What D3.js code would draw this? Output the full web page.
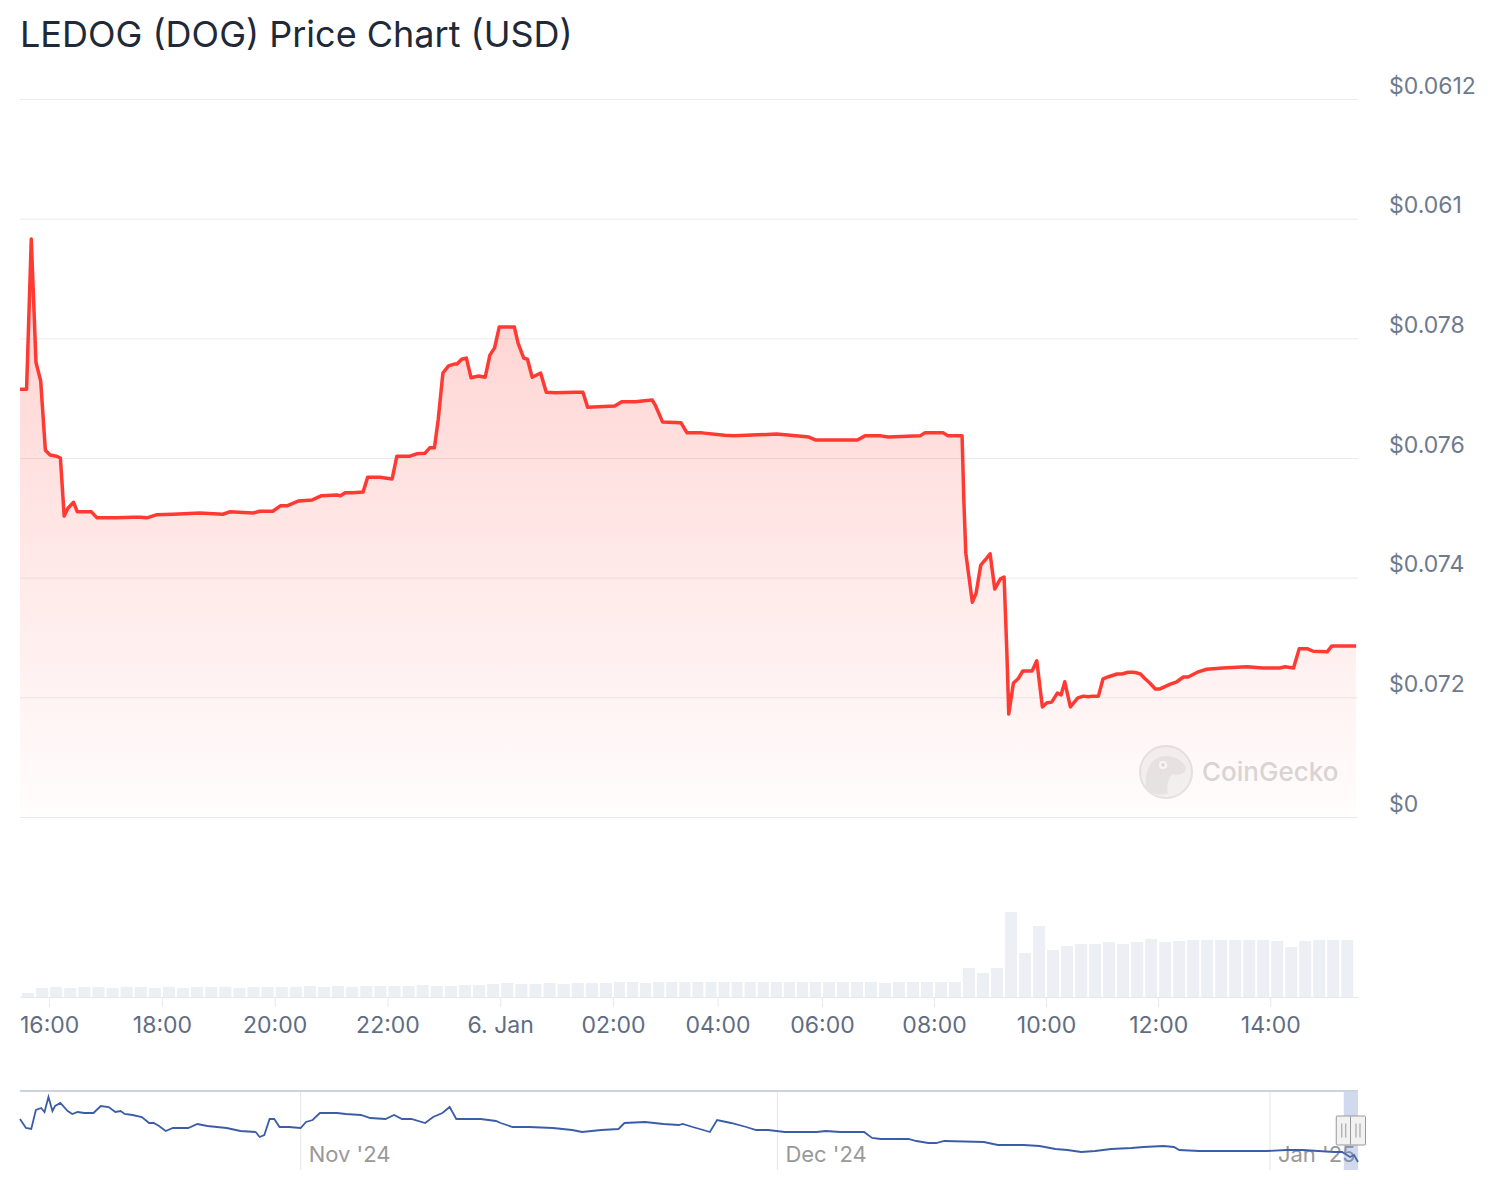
<!DOCTYPE html>
<html lang="en">
  <head>
    <meta charset="UTF-8" />
    <meta name="viewport" content="width=device-width, initial-scale=1.0" />
    <title>LEDOG (DOG) Price Chart (USD)</title>
    <style>
      * {
        margin: 0;
        padding: 0;
      }
      svg {
        display: block;
        font-family: Inter, 'Noto Sans', sans-serif;
      }
    </style>
  </head>
  <body>
    <script src="https://cdn.jsdelivr.net/npm/d3@7"></script>
    <script>
      // price from 5 Jan 15:29 to 6 Jan 15:32 (time HH:MM, USD)
      const priceData = [
        ['15:29', 0.07715], ['15:36', 0.07715], ['15:41', 0.07966], ['15:46', 0.0776],
        ['15:51', 0.07729], ['15:56', 0.07613], ['16:01', 0.07605], ['16:08', 0.07603],
        ['16:12', 0.076], ['16:16', 0.07503], ['16:20', 0.07516], ['16:26', 0.07526],
        ['16:30', 0.0751], ['16:45', 0.0751], ['16:51', 0.075], ['17:12', 0.075],
        ['17:29', 0.07501], ['17:37', 0.07501], ['17:44', 0.075], ['17:54', 0.07505],
        ['18:12', 0.07506], ['18:40', 0.07508], ['19:05', 0.07506], ['19:12', 0.0751],
        ['19:37', 0.07508], ['19:44', 0.07511], ['19:58', 0.07511], ['20:06', 0.0752],
        ['20:13', 0.0752], ['20:25', 0.07528], ['20:40', 0.0753], ['20:50', 0.07537],
        ['21:06', 0.07538], ['21:10', 0.07537], ['21:15', 0.07542], ['21:23', 0.07542],
        ['21:34', 0.07543], ['21:39', 0.07568], ['21:52', 0.07568], ['22:05', 0.07565],
        ['22:10', 0.07603], ['22:24', 0.07603], ['22:31', 0.07607], ['22:40', 0.07608],
        ['22:45', 0.07617], ['22:50', 0.07617], ['22:54', 0.07664], ['22:59', 0.07742],
        ['23:05', 0.07754], ['23:11', 0.07757], ['23:14', 0.07757], ['23:19', 0.07765],
        ['23:24', 0.07767], ['23:29', 0.07734], ['23:37', 0.07737], ['23:44', 0.07735],
        ['23:49', 0.07772], ['23:54', 0.07784], ['23:59', 0.07819], ['00:15', 0.07819],
        ['00:19', 0.07792], ['00:25', 0.07767], ['00:29', 0.07765], ['00:34', 0.07735],
        ['00:43', 0.07742], ['00:49', 0.0771], ['00:59', 0.07709], ['01:19', 0.0771],
        ['01:28', 0.0771], ['01:33', 0.07685], ['02:02', 0.07687], ['02:10', 0.07694],
        ['02:26', 0.07694], ['02:31', 0.07695], ['02:45', 0.07697], ['02:49', 0.07687],
        ['02:57', 0.0766], ['03:18', 0.07659], ['03:25', 0.07642], ['03:42', 0.07642],
        ['04:08', 0.07638], ['04:19', 0.07637], ['05:08', 0.0764], ['05:45', 0.07635],
        ['05:53', 0.0763], ['06:38', 0.0763], ['06:46', 0.07637], ['07:03', 0.07637],
        ['07:11', 0.07635], ['07:45', 0.07637], ['07:50', 0.07642], ['08:10', 0.07642],
        ['08:15', 0.07637], ['08:30', 0.07637], ['08:32', 0.07525], ['08:34', 0.07441],
        ['08:41', 0.07359], ['08:45', 0.07374], ['08:50', 0.07421], ['08:55', 0.0743],
        ['09:00', 0.0744], ['09:05', 0.07381], ['09:11', 0.07398], ['09:15', 0.07401],
        ['09:18', 0.07274], ['09:20', 0.07172], ['09:25', 0.07224], ['09:30', 0.07231],
        ['09:35', 0.07244], ['09:45', 0.07244], ['09:50', 0.07261], ['09:56', 0.07184],
        ['10:01', 0.07191], ['10:06', 0.07192], ['10:12', 0.07207], ['10:16', 0.07204],
        ['10:20', 0.07226], ['10:26', 0.07184], ['10:34', 0.07199], ['10:40', 0.07202],
        ['10:45', 0.07201], ['10:50', 0.07202], ['10:56', 0.07202], ['11:01', 0.07231],
        ['11:06', 0.07234], ['11:16', 0.07239], ['11:21', 0.07239], ['11:28', 0.07242],
        ['11:33', 0.07242], ['11:37', 0.07241], ['11:41', 0.07239], ['11:46', 0.07231],
        ['11:51', 0.07224], ['11:57', 0.07214], ['12:02', 0.07214], ['12:13', 0.07222],
        ['12:20', 0.07226], ['12:27', 0.07234], ['12:32', 0.07234], ['12:42', 0.07242],
        ['12:52', 0.07247], ['13:09', 0.07249], ['13:35', 0.07251], ['13:52', 0.07249],
        ['14:10', 0.07249], ['14:16', 0.07251], ['14:25', 0.07249], ['14:31', 0.07281],
        ['14:40', 0.07281], ['14:46', 0.07277], ['15:01', 0.07276], ['15:06', 0.07286],
        ['15:32', 0.07286]
      ]

      // y axis ticks and the labels shown beside them
      const yTickValues = [0.07, 0.072, 0.074, 0.076, 0.078, 0.08, 0.082]
      const yTickLabels = ['$0', '$0.072', '$0.074', '$0.076', '$0.078', '$0.061', '$0.0612']

      // volume, one bar per 15 minutes starting 5 Jan 15:30
      const volumeStart = '15:30'
      const volumes = [
        4, 9,
        10, 9, 10, 10, 9, 10, 10, 9,
        10, 9, 10, 10, 10, 9, 10, 10,
        10, 10, 11, 10, 11, 10, 11, 11,
        11, 11, 12, 11, 11, 12, 12, 13,
        14, 13, 13, 14, 13, 14, 14, 14,
        15, 15, 14, 15, 15, 15, 15, 15,
        15, 15, 15, 15, 15, 15, 15, 15,
        15, 15, 15, 15, 14, 15, 15, 15,
        15, 15, 29, 24, 29, 85, 44, 71,
        47, 51, 53, 53, 55, 53, 55, 58,
        55, 56, 57, 57, 57, 57, 57, 57,
        56, 50, 56, 57, 57, 57
      ]

      // navigator: longer price history
      const navData = [
        ['2024-10-14 08', 0.205], ['2024-10-14 17', 0.169], ['2024-10-15 01', 0.165],
        ['2024-10-15 08', 0.241], ['2024-10-15 16', 0.249], ['2024-10-15 21', 0.233],
        ['2024-10-16 03', 0.293], ['2024-10-16 09', 0.237], ['2024-10-16 13', 0.257],
        ['2024-10-16 21', 0.269], ['2024-10-17 08', 0.237], ['2024-10-17 15', 0.225],
        ['2024-10-17 23', 0.233], ['2024-10-18 09', 0.229], ['2024-10-18 23', 0.229],
        ['2024-10-19 10', 0.257], ['2024-10-19 22', 0.253], ['2024-10-20 08', 0.233],
        ['2024-10-20 16', 0.237], ['2024-10-20 22', 0.225], ['2024-10-21 10', 0.221],
        ['2024-10-22 00', 0.213], ['2024-10-22 11', 0.189], ['2024-10-22 18', 0.189],
        ['2024-10-23 02', 0.177], ['2024-10-23 12', 0.157], ['2024-10-23 23', 0.169],
        ['2024-10-24 22', 0.169], ['2024-10-25 12', 0.185], ['2024-10-26 03', 0.177],
        ['2024-10-27 08', 0.169], ['2024-10-28 05', 0.157], ['2024-10-29 04', 0.153],
        ['2024-10-29 10', 0.133], ['2024-10-29 17', 0.141], ['2024-10-30 01', 0.205],
        ['2024-10-30 08', 0.205], ['2024-10-30 16', 0.173], ['2024-10-31 06', 0.173],
        ['2024-11-01 00', 0.169], ['2024-11-01 08', 0.193], ['2024-11-01 18', 0.201],
        ['2024-11-02 05', 0.229], ['2024-11-02 20', 0.229], ['2024-11-03 07', 0.229],
        ['2024-11-03 20', 0.225], ['2024-11-04 19', 0.221], ['2024-11-05 09', 0.209],
        ['2024-11-06 08', 0.205], ['2024-11-06 21', 0.221], ['2024-11-07 09', 0.205],
        ['2024-11-07 23', 0.205], ['2024-11-08 20', 0.189], ['2024-11-09 08', 0.213],
        ['2024-11-09 22', 0.229], ['2024-11-10 09', 0.253], ['2024-11-10 19', 0.205],
        ['2024-11-12 08', 0.205], ['2024-11-13 07', 0.197], ['2024-11-13 14', 0.189],
        ['2024-11-14 08', 0.173], ['2024-11-15 09', 0.173], ['2024-11-16 21', 0.169],
        ['2024-11-18 02', 0.161], ['2024-11-18 17', 0.153], ['2024-11-19 22', 0.161],
        ['2024-11-21 00', 0.165], ['2024-11-21 09', 0.189], ['2024-11-22 16', 0.193],
        ['2024-11-23 20', 0.185], ['2024-11-24 19', 0.181], ['2024-11-25 01', 0.185],
        ['2024-11-25 16', 0.173], ['2024-11-26 08', 0.161], ['2024-11-26 18', 0.153],
        ['2024-11-27 05', 0.201], ['2024-11-28 02', 0.189], ['2024-11-29 01', 0.173],
        ['2024-11-29 16', 0.161], ['2024-11-30 10', 0.161], ['2024-12-01 11', 0.153],
        ['2024-12-03 11', 0.153], ['2024-12-04 01', 0.157], ['2024-12-04 23', 0.153],
        ['2024-12-06 11', 0.153], ['2024-12-06 23', 0.129], ['2024-12-07 12', 0.125],
        ['2024-12-08 12', 0.125], ['2024-12-09 06', 0.125], ['2024-12-09 18', 0.117],
        ['2024-12-10 12', 0.109], ['2024-12-11 00', 0.109], ['2024-12-11 12', 0.117],
        ['2024-12-14 00', 0.113], ['2024-12-14 21', 0.101], ['2024-12-16 12', 0.101],
        ['2024-12-17 12', 0.097], ['2024-12-18 12', 0.085], ['2024-12-19 06', 0.081],
        ['2024-12-20 03', 0.073], ['2024-12-21 00', 0.077], ['2024-12-22 00', 0.085],
        ['2024-12-23 07', 0.089], ['2024-12-24 01', 0.093], ['2024-12-25 07', 0.097],
        ['2024-12-25 23', 0.093], ['2024-12-26 07', 0.081], ['2024-12-27 13', 0.077],
        ['2024-12-29 01', 0.077], ['2024-12-30 13', 0.077], ['2024-12-31 19', 0.077],
        ['2025-01-02 01', 0.081], ['2025-01-03 01', 0.081], ['2025-01-04 01', 0.077],
        ['2025-01-05 01', 0.073], ['2025-01-05 13', 0.073], ['2025-01-06 01', 0.053],
        ['2025-01-06 07', 0.061], ['2025-01-06 13', 0.033]
      ]
      const navTicks = ['2024-11-01 00', '2024-12-01 00', '2025-01-01 00']
      const navTickLabels = ["Nov '24", "Dec '24", "Jan '25"]

      const title = 'LEDOG (DOG) Price Chart (USD)'

      const width = 1498
      const height = 1200
      const left = 20
      const right = 1358

      const svg = d3
        .select('body')
        .append('svg')
        .attr('width', width)
        .attr('height', height)

      // HH:MM -> Date, rolling to the next day after midnight
      function toDates(times) {
        let day = 5
        let prev = -1
        return times.map(s => {
          const [h, m] = s.split(':').map(Number)
          if (h * 60 + m < prev) day++
          prev = h * 60 + m
          return new Date(2025, 0, day, h, m)
        })
      }

      const priceDates = toDates(priceData.map(d => d[0]))
      const prices = priceData.map((d, i) => ({ date: priceDates[i], value: d[1] }))

      // the time axis is ordinal-ish in the source: 02:00-06:00 is squeezed
      const x = d3
        .scaleTime()
        .domain([
          new Date(2025, 0, 5, 15, 29),
          new Date(2025, 0, 6, 2, 0),
          new Date(2025, 0, 6, 6, 0),
          new Date(2025, 0, 6, 15, 34)
        ])
        .range([left, 613, 822, right])

      const y = d3.scaleLinear().domain([0.07, 0.082]).range([817, 99])

      const vol = d3.scaleLinear().domain([0, 100]).range([997, 897])

      // title
      svg
        .append('text')
        .attr('x', 20)
        .attr('y', 47)
        .attr('font-size', 36)
        .attr('fill', '#1f2937')
        .text(title)

      // y grid + labels
      const yAxis = d3
        .axisRight(y)
        .tickValues(yTickValues)
        .tickSize(-(right - left))
        .tickPadding(31)
        .tickFormat((d, i) => yTickLabels[i])

      const gy = svg.append('g').attr('transform', `translate(${right},0)`).call(yAxis)
      gy.select('.domain').remove()
      gy.selectAll('.tick line').attr('stroke', '#e9ebee')
      gy.selectAll('.tick text')
        .attr('dy', -6)
        .attr('font-size', 23)
        .attr('font-family', 'Inter, sans-serif')
        .attr('fill', '#6e7a8e')

      // gradient for the area
      const grad = svg
        .append('defs')
        .append('linearGradient')
        .attr('id', 'priceFill')
        .attr('gradientUnits', 'userSpaceOnUse')
        .attr('x1', 0)
        .attr('y1', y(0.082))
        .attr('x2', 0)
        .attr('y2', y(0.07))
      grad.append('stop').attr('offset', 0).attr('stop-color', '#ff3a33').attr('stop-opacity', 0.3)
      grad.append('stop').attr('offset', 1).attr('stop-color', '#ff3a33').attr('stop-opacity', 0.01)

      const area = d3
        .area()
        .x(d => x(d.date))
        .y0(y(0.07))
        .y1(d => y(d.value))

      const line = d3
        .line()
        .x(d => x(d.date))
        .y(d => y(d.value))

      // watermark
      const wm = svg.append('g').attr('transform', 'translate(1166,772)').attr('opacity', 0.9)
      wm.append('circle').attr('r', 26).attr('fill', '#f2f2f2').attr('stroke', '#e2e2e2').attr('stroke-width', 2)
      wm.append('path')
        .attr('d', 'M-20,16 C-22,-2 -14,-16 0,-16 C10,-16 18,-10 20,-4 C20,2 12,4 6,2 C2,8 0,14 2,22 C-8,24 -16,22 -20,16 Z')
        .attr('fill', '#e4e4e4')
      wm.append('circle').attr('cx', -3).attr('cy', -7).attr('r', 4).attr('fill', '#fafafa')
      wm.append('circle').attr('cx', -3).attr('cy', -7).attr('r', 2).attr('fill', '#dadada')
      svg
        .append('text')
        .attr('x', 1202)
        .attr('y', 781)
        .attr('font-size', 26)
        .attr('font-weight', 500)
        .attr('fill', '#d8d8d8')
        .text('CoinGecko')

      svg.append('path').datum(prices).attr('d', area).attr('fill', 'url(#priceFill)')
      svg
        .append('path')
        .datum(prices)
        .attr('d', line)
        .attr('fill', 'none')
        .attr('stroke', '#ff3a33')
        .attr('stroke-width', 3.5)
        .attr('stroke-linejoin', 'round')

      // volume bars
      const [vh, vm] = volumeStart.split(':').map(Number)
      const volStart = new Date(2025, 0, 5, vh, vm)
      const volData = volumes.map((v, i) => ({
        t0: d3.timeMinute.offset(volStart, i * 15),
        t1: d3.timeMinute.offset(volStart, (i + 1) * 15),
        value: v
      }))
      svg
        .append('g')
        .selectAll('rect')
        .data(volData)
        .join('rect')
        .attr('x', d => x(d.t0) + 1)
        .attr('width', d => Math.max(1, x(d.t1) - x(d.t0) - 2))
        .attr('y', d => vol(d.value))
        .attr('height', d => vol(0) - vol(d.value))
        .attr('fill', '#eceff3')

      // time axis
      const xAxis = d3
        .axisBottom(x)
        .tickValues(d3.timeHour.every(2).range(new Date(2025, 0, 5, 16), new Date(2025, 0, 6, 15)))
        .tickFormat(d => (d.getHours() === 0 ? '6. Jan' : d3.timeFormat('%H:%M')(d)))
        .tickSize(10)
        .tickPadding(10)
        .tickSizeOuter(0)

      const gx = svg.append('g').attr('transform', 'translate(0,997)').call(xAxis)
      gx.select('.domain').attr('stroke', '#e6e9ed')
      gx.selectAll('.tick line').attr('stroke', '#e6e9ed')
      gx.selectAll('.tick text')
        .attr('font-size', 23)
        .attr('font-family', 'Inter, sans-serif')
        .attr('fill', '#5f6d84')

      // navigator
      const parseNav = d3.timeParse('%Y-%m-%d %H')
      const nav = navData.map(d => ({ date: parseNav(d[0]), value: d[1] }))
      const nx = d3
        .scaleTime()
        .domain(d3.extent(nav, d => d.date))
        .range([left, right])
      const ny = d3
        .scaleLinear()
        .domain(d3.extent(nav, d => d.value))
        .range([1162, 1097])

      const navTop = 1091
      const navBottom = 1170

      svg
        .append('g')
        .selectAll('line')
        .data(navTicks.map(parseNav))
        .join('line')
        .attr('x1', d => nx(d))
        .attr('x2', d => nx(d))
        .attr('y1', navTop)
        .attr('y2', navBottom)
        .attr('stroke', '#e6e6e6')

      svg
        .append('g')
        .selectAll('text')
        .data(navTicks.map(parseNav))
        .join('text')
        .attr('x', d => nx(d) + 8)
        .attr('y', 1162)
        .attr('font-size', 22)
        .attr('fill', '#999999')
        .text((d, i) => navTickLabels[i])

      svg
        .append('path')
        .datum(nav)
        .attr(
          'd',
          d3
            .line()
            .x(d => nx(d.date))
            .y(d => ny(d.value))
        )
        .attr('fill', 'none')
        .attr('stroke', '#3b5da8')
        .attr('stroke-width', 1.8)

      // selected range mask
      const selStart = nx(priceDates[0])
      svg
        .append('rect')
        .attr('x', selStart)
        .attr('y', navTop)
        .attr('width', right - selStart)
        .attr('height', navBottom - navTop)
        .attr('fill', 'rgba(102,133,194,0.3)')

      svg
        .append('line')
        .attr('x1', left)
        .attr('x2', right)
        .attr('y1', navTop)
        .attr('y2', navTop)
        .attr('stroke', '#ccd3de')
        .attr('stroke-width', 2)

      // handles
      const handles = svg
        .append('g')
        .selectAll('g')
        .data([selStart, right])
        .join('g')
        .attr('transform', d => `translate(${d},${(navTop + navBottom) / 2})`)
      handles
        .append('rect')
        .attr('x', -7.5)
        .attr('y', -14.5)
        .attr('width', 15)
        .attr('height', 29)
        .attr('rx', 1)
        .attr('fill', '#f2f2f2')
        .attr('stroke', '#999999')
      handles
        .selectAll('line')
        .data([-2, 2])
        .join('line')
        .attr('x1', d => d)
        .attr('x2', d => d)
        .attr('y1', -7)
        .attr('y2', 7)
        .attr('stroke', '#999999')
    </script>
  </body>
</html>
